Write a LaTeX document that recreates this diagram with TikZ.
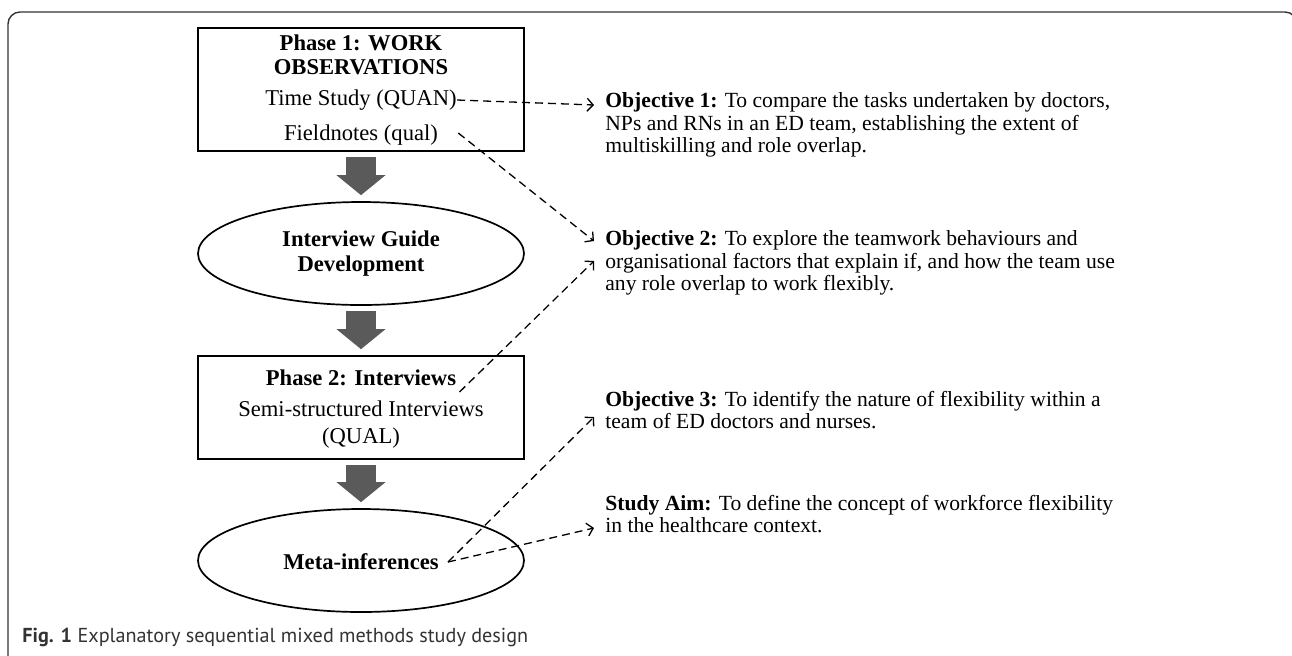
\documentclass[tikz,border=0pt]{standalone}
\usepackage{fontspec}
\setmainfont{Liberation Serif}
\newfontfamily\capfont{PT Sans}
\usepackage{tikz}
\usetikzlibrary{arrows.meta,positioning,shapes,calc}
\definecolor{arrowgray}{HTML}{5A5A5A}
\definecolor{framegray}{HTML}{333333}
\tikzset{
    % Phase box style
    phasebox/.style={rectangle,draw,line width=0.85pt,minimum width=163pt,minimum height=61.5pt,inner sep=0pt},
    % Stage ellipse style
    stage/.style={ellipse,draw,line width=0.85pt,minimum width=163pt,minimum height=51.5pt,inner sep=0pt,
        font=\fontsize{11.3}{12.5}\selectfont\bfseries,align=center},
    % Text inside boxes
    boxtext/.style={font=\fontsize{11.3}{12}\selectfont,align=center,inner sep=0pt},
    % Objective text
    objtext/.style={font=\fontsize{10.8}{11.3}\selectfont,align=left,anchor=west,inner sep=0pt},
    % Big grey arrow between stages
    bigarrow/.style={arrowgray,line width=15pt,-{Triangle[width=24.5pt,length=10pt,line width=0pt]},
        shorten <=2.5pt,shorten >=3pt},
    % Dashed link to objectives
    link/.style={dash pattern=on 4pt off 2.5pt,line width=0.65pt,-{Straight Barb[length=3pt,width=6.5pt]}}
}
\begin{document}
\begin{tikzpicture}[x=0.5pt,y=-0.5pt]
    \useasboundingbox (0,0) rectangle (1292,655);
    % Outer frame
    \draw[framegray,line width=0.7pt,rounded corners=6pt] (8,670) -- (8,12) -- (1297,12) -- (1297,670);

    % Phase 1 box
    \node[phasebox] (box1) at (361,89.5) {};
    \node[boxtext,font=\fontsize{11.3}{12}\selectfont\bfseries] (title1) at (361,55) {Phase 1: WORK\\OBSERVATIONS};
    \node[boxtext] (tstudy) at (361,100) {Time Study (QUAN)};
    \node[boxtext] (fnotes) at (361,135) {Fieldnotes (qual)};

    % Interview guide ellipse
    \node[stage] (ell1) at (361,253.5) {Interview Guide\\Development};

    % Phase 2 box
    \node[phasebox,minimum height=51.5pt] (box2) at (361,407.5) {};
    \node[boxtext,font=\fontsize{11.3}{12}\selectfont\bfseries] (title2) at (361,378) {Phase 2: Interviews};
    \node[boxtext,font=\fontsize{11.3}{13.5}\selectfont] (semi) at (361,425) {Semi-structured Interviews\\(QUAL)};

    % Meta-inferences ellipse
    \node[stage] (ell2) at (361,560.5) {};
    \node[boxtext,font=\fontsize{11.3}{12}\selectfont\bfseries] (meta) at (361,562) {Meta-inferences};

    % Grey arrows
    \draw[bigarrow] (box1) -- (ell1);
    \draw[bigarrow] (ell1) -- (box2);
    \draw[bigarrow] (box2) -- (ell2);

    % Objectives
    \node[objtext] (obj1) at (605,125) {\textbf{Objective 1:} To compare the tasks undertaken by doctors,\\NPs and RNs in an ED team, establishing the extent of\\multiskilling and role overlap.};
    \node[objtext] (obj2) at (605,263) {\textbf{Objective 2:} To explore the teamwork behaviours and\\organisational factors that explain if, and how the team use\\any role overlap to work flexibly.};
    \node[objtext] (obj3) at (605,410) {\textbf{Objective 3:} To identify the nature of flexibility within a\\team of ED doctors and nurses.};
    \node[objtext] (aim) at (605,514) {\textbf{Study Aim:} To define the concept of workforce flexibility\\in the healthcare context.};

    % Link ends
    \coordinate (o1) at (594,105);
    \coordinate (o2a) at (594,241);
    \coordinate (o2b) at (594,261);
    \coordinate (o3) at (594,417);
    \coordinate (oaim) at (594,528);
    \coordinate (mfrom) at ($(meta.east)+(9,0)$);

    % Dashed links
    \draw[link] (tstudy.east) -- (o1);
    \draw[link] ($(fnotes.east)+(20,-2)$) -- (o2a);
    \draw[link] ($(title2.east)+(3,14)$) -- (o2b);
    \draw[link] (mfrom) -- (o3);
    \draw[link] (mfrom) -- (oaim);

    % Caption
    \node[anchor=west,inner sep=0pt,text=framegray] (caption) at (22,637)
        {\capfont\fontsize{10.1}{11}\selectfont\textbf{Fig. 1} Explanatory sequential mixed methods study design};
\end{tikzpicture}
\end{document}
